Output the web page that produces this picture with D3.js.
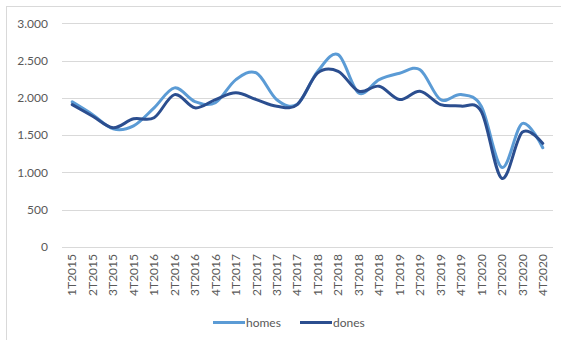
<!DOCTYPE html>
<html>
<head>
<meta charset="utf-8">
<script src="https://cdn.jsdelivr.net/npm/d3@7/dist/d3.min.js"></script>
<style>
  html, body { margin: 0; padding: 0; background: #fff; }
  svg { display: block; font-family: Lato, "Open Sans", sans-serif; }
</style>
</head>
<body>
<svg id="chart" width="561" height="340"></svg>
<script>
// Quarterly series, 2015–2020
const quarters = [
  "1T2015","2T2015","3T2015","4T2015",
  "1T2016","2T2016","3T2016","4T2016",
  "1T2017","2T2017","3T2017","4T2017",
  "1T2018","2T2018","3T2018","4T2018",
  "1T2019","2T2019","3T2019","4T2019",
  "1T2020","2T2020","3T2020","4T2020"
];
const homes = [
  1946, 1775, 1585, 1625,
  1866, 2134, 1950, 1935,
  2245, 2334, 1975, 1915,
  2356, 2579, 2067, 2245,
  2330, 2378, 1977, 2044,
  1885, 1067, 1656, 1331
];
const dones = [
  1910, 1754, 1599, 1719,
  1733, 2044, 1866, 1977,
  2067, 1977, 1888, 1910,
  2334, 2356, 2089, 2156,
  1977, 2089, 1910, 1890,
  1815, 920, 1540, 1389
];
const yTicks = [0, 500, 1000, 1500, 2000, 2500, 3000];
const seriesNames = ["homes", "dones"];
const seriesColors = ["#5B9BD5", "#2B4E8F"];

const svg = d3.select("#chart");

// outer chart frame
svg.append("rect")
  .attr("x", 6.5).attr("y", 6.5)
  .attr("width", 600).attr("height", 400)
  .attr("fill", "none").attr("stroke", "#d9d9d9");

const x = d3.scaleBand().domain(quarters).range([62, 553]);
const y = d3.scaleLinear().domain([0, 3000]).range([247, 23.3]);

const fmt = v => d3.format(",")(v).replace(/,/g, ".");

// horizontal gridlines
svg.append("g")
  .selectAll("line")
  .data(yTicks)
  .join("line")
  .attr("x1", 62).attr("x2", 553)
  .attr("y1", d => Math.round(y(d)) + 0.5)
  .attr("y2", d => Math.round(y(d)) + 0.5)
  .attr("stroke", "#d9d9d9").attr("stroke-width", 1);

// y axis labels
const yAxis = d3.axisLeft(y).tickValues(yTicks).tickFormat(fmt).tickSize(0).tickPadding(0);
const yg = svg.append("g").attr("transform", "translate(48,0)").call(yAxis);
yg.select(".domain").remove();
yg.selectAll("text")
  .attr("fill", "#595959")
  .style("font-size", "12px")
  .style("font-family", "Lato, 'Open Sans', sans-serif");

// x axis labels (rotated)
const xAxis = d3.axisBottom(x).tickSize(0).tickPadding(0);
const xg = svg.append("g").attr("transform", "translate(0,247)").call(xAxis);
xg.select(".domain").remove();
xg.selectAll("text")
  .attr("fill", "#595959")
  .style("font-size", "12px")
  .style("font-family", "Lato, 'Open Sans', sans-serif")
  .attr("text-anchor", "end")
  .attr("dy", "0.35em")
  .attr("transform", "translate(0,7) rotate(-90)");

// series lines
const line = d3.line()
  .x((d, i) => x(quarters[i]) + x.bandwidth() / 2)
  .y(d => y(d))
  .curve(d3.curveCardinal.tension(0));

[homes, dones].forEach((vals, k) => {
  svg.append("path")
    .datum(vals)
    .attr("d", line)
    .attr("fill", "none")
    .attr("stroke", seriesColors[k])
    .attr("stroke-width", 3)
    .attr("stroke-linejoin", "round")
    .attr("stroke-linecap", "round");
});

// legend
const legendX = [213, 300];
const lg = svg.append("g");
seriesNames.forEach((name, k) => {
  lg.append("line")
    .attr("x1", legendX[k]).attr("x2", legendX[k] + 32)
    .attr("y1", 322.5).attr("y2", 322.5)
    .attr("stroke", seriesColors[k]).attr("stroke-width", 3);
  lg.append("text")
    .attr("x", legendX[k] + 33).attr("y", 322.5)
    .attr("dy", "0.35em")
    .attr("fill", "#595959")
    .style("font-size", "12px")
    .text(name);
});
</script>
</body>
</html>
